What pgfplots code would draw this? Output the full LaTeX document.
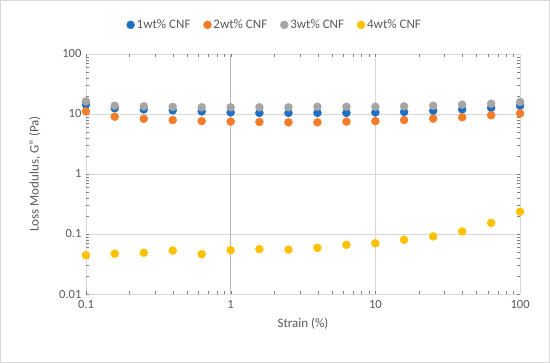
\documentclass[border=0pt]{standalone}
\usepackage{pgfplots}
\pgfplotsset{compat=1.18}
\usepackage{fontspec}
\setmainfont{Carlito}
\definecolor{cblue}{HTML}{1F6FC5}
\definecolor{corange}{HTML}{F47B27}
\definecolor{cgray}{HTML}{A5A5A5}
\definecolor{cyellow}{HTML}{FFC000}
\definecolor{gridc}{HTML}{D9D9D9}
\definecolor{txt}{HTML}{595959}
\begin{document}
\begin{tikzpicture}[x=1pt,y=1pt]
\draw[gridc, line width=0.8pt] (0.5,0.5) rectangle (549.5,362.5);
\begin{axis}[
  at={(86pt,69pt)}, anchor=south west,
  scale only axis, width=434pt, height=240pt,
  xmode=log, ymode=log,
  xmin=0.1, xmax=100, ymin=0.01, ymax=100,
  xtick={0.1,1,10,100}, xticklabels={0.1,1,10,100},
  ytick={0.01,0.1,1,10,100}, yticklabels={0.01,0.1,1,10,100},
  minor tick num=0, minor xtick={}, minor ytick={},
  major tick length=0pt,
  axis line style={draw=none},
  grid=major,
  grid style={gridc, line width=0.8pt},
  extra x ticks={1}, extra x tick labels={},
  extra x tick style={grid style={color=black!28, line width=0.8pt}},
  tick label style={font=\fontsize{12.5}{14}\selectfont, text=txt},
  /pgf/number format/assume math mode=true,
  xticklabel style={yshift=-3pt},
  yticklabel style={xshift=-1pt},
  xlabel={Strain (\%)},
  ylabel={Loss Modulus, G" (Pa)},
  label style={font=\fontsize{13}{15}\selectfont, text=txt},
  xlabel style={yshift=-2pt},
  ylabel style={yshift=12pt},
  legend columns=4,
  legend style={at={(0.435,1.121)}, anchor=center, draw=none, fill=none,
    font=\fontsize{13}{15}\selectfont, text=txt,
    /tikz/every even column/.append style={column sep=11pt}},
  legend cell align=left,
  every axis plot/.append style={only marks, mark=*, mark size=4pt},
]
\addplot[mark options={draw=cblue, fill=cblue}] coordinates {
(0.1,14.3) (0.158,12.4) (0.251,11.9) (0.398,11.5) (0.631,11.0) (1,10.6) (1.58,10.4) (2.51,10.4)
(3.98,10.4) (6.31,10.4) (10,10.6) (15.8,10.8) (25.1,11.3) (39.8,11.9) (63.1,12.6) (100,13.7)};
\addlegendentry{1wt\% CNF}
\addplot[mark options={draw=corange, fill=corange}] coordinates {
(0.1,11.0) (0.158,9.0) (0.251,8.3) (0.398,7.9) (0.631,7.6) (1,7.45) (1.58,7.35) (2.51,7.25)
(3.98,7.25) (6.31,7.45) (10,7.6) (15.8,7.9) (25.1,8.35) (39.8,8.8) (63.1,9.5) (100,10.2)};
\addlegendentry{2wt\% CNF}
\addplot[mark options={draw=cgray, fill=cgray}] coordinates {
(0.1,16.2) (0.158,13.7) (0.251,13.4) (0.398,13.1) (0.631,12.9) (1,12.9) (1.58,12.9) (2.51,12.9)
(3.98,13.2) (6.31,13.2) (10,13.2) (15.8,13.4) (25.1,13.7) (39.8,14.3) (63.1,14.8) (100,15.8)};
\addlegendentry{3wt\% CNF}
\addplot[mark options={draw=cyellow, fill=cyellow}] coordinates {
(0.1,0.0444) (0.158,0.047) (0.251,0.0487) (0.398,0.053) (0.631,0.046) (1,0.0537) (1.58,0.0558) (2.51,0.055)
(3.98,0.0587) (6.31,0.066) (10,0.070) (15.8,0.080) (25.1,0.091) (39.8,0.110) (63.1,0.153) (100,0.235)};
\addlegendentry{4wt\% CNF}
\end{axis}
\end{tikzpicture}
\end{document}
